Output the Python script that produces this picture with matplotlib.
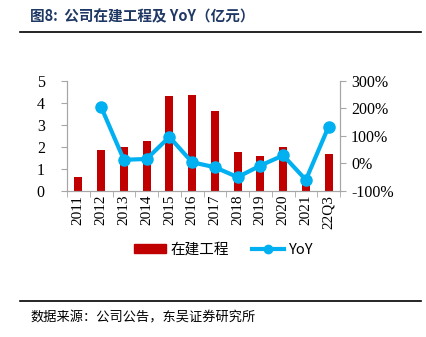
import matplotlib
matplotlib.use("Agg")
import matplotlib.pyplot as plt
from matplotlib.lines import Line2D
from matplotlib.patches import Patch
from matplotlib.ticker import FuncFormatter, FixedLocator

cats = ["2011", "2012", "2013", "2014", "2015", "2016", "2017",
        "2018", "2019", "2020", "2021", "22Q3"]
zaijian = [0.63, 1.85, 2.0, 2.25, 4.3, 4.36, 3.63, 1.74, 1.56, 1.97, 0.72, 1.65]
yoy = [None, 204, 12, 15, 95, 3, -15, -51, -9, 28, -61, 133]

cjk = ["Noto Sans CJK SC", "DejaVu Sans"]
serif = ["Liberation Serif", "DejaVu Serif"]
red = "#C00000"
blue = "#00B0F0"
grey = "#A6A6A6"

fig = plt.figure(figsize=(4.26, 3.37), dpi=100)
W, H = 426, 337
ax = fig.add_axes([67 / W, 1 - 190.6 / H, 273 / W, 110 / H])
ax2 = ax.twinx()

x = list(range(len(cats)))
ax.bar(x, zaijian, width=0.36, color=red, zorder=2)
xs = [i for i, v in zip(x, yoy) if v is not None]
ys = [v for v in yoy if v is not None]
ax2.plot(xs, ys, color=blue, lw=3, marker="o", ms=8, zorder=3)

ax.set_xlim(-0.5, len(cats) - 0.5)
ax.set_ylim(0, 5)
ax.set_yticks(range(6))
ax2.set_ylim(-100, 300)
ax2.set_yticks([-100, 0, 100, 200, 300])
ax2.yaxis.set_major_formatter(FuncFormatter(lambda v, p: f"{int(v)}%"))

ax.set_xticks(x)
ax.set_xticklabels(cats, rotation=90, fontfamily=serif, fontsize=11)
ax.tick_params(axis="x", length=0, pad=3)
ax.xaxis.set_minor_locator(FixedLocator([i - 0.5 for i in range(len(cats) + 1)]))
ax.tick_params(axis="x", which="minor", length=4, color=grey, direction="out")

for a in (ax, ax2):
    a.spines["top"].set_visible(False)
    for s in ("left", "right", "bottom"):
        a.spines[s].set_color(grey)
    a.tick_params(axis="y", length=4, color=grey, labelsize=11.5, pad=2)
    for lab in a.get_yticklabels():
        lab.set_fontfamily(serif)
ax.tick_params(axis="y", pad=12)
ax2.tick_params(axis="y", pad=4)
ax2.set_zorder(ax.get_zorder() + 1)

handles = [Patch(color=red),
           Line2D([0], [0], color=blue, lw=3, marker="o", ms=6)]
fig.legend(handles, ["在建工程", "YoY"], loc="center", bbox_to_anchor=(0.525, 1 - 250 / H),
           ncol=2, frameon=False, prop={"family": cjk, "size": 10.5},
           handlelength=2.2, handleheight=0.6, handletextpad=0.3, columnspacing=1.6)

fig.text(30 / W, 1 - 16 / H, "图8:  公司在建工程及 YoY（亿元）", fontfamily=cjk,
         fontsize=10.5, fontweight="bold", color="#1F3864", va="center")
fig.add_artist(Line2D([20 / W, 421 / W], [1 - 32 / H, 1 - 32 / H], color="black", lw=1.2))
fig.add_artist(Line2D([20 / W, 421 / W], [1 - 301 / H, 1 - 301 / H], color="black", lw=1.2))
fig.text(30 / W, 1 - 318 / H, "数据来源：公司公告，东吴证券研究所", fontfamily=cjk,
         fontsize=9.5, color="black", va="center")

fig.savefig("out.png", dpi=100)
